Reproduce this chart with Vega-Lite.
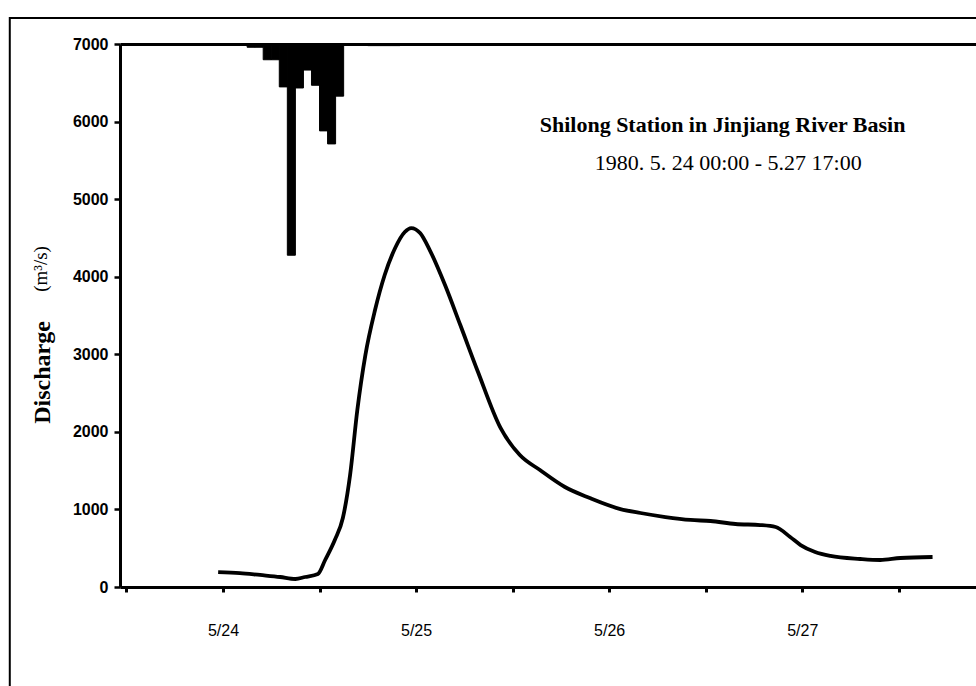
{
  "$schema": "https://vega.github.io/schema/vega-lite/v6.json",
  "width": 856,
  "height": 543,
  "autosize": {"type": "none"},
  "padding": {"left": 120, "top": 44, "right": 0, "bottom": 99},
  "background": "white",
  "config": {"view": {"stroke": null}, "axis": {"grid": false}},
  "datasets": {
    "discharge": [
      {"hour": -0.6, "Q": 193}, {"hour": 2.1, "Q": 180}, {"hour": 4.6, "Q": 155}, {"hour": 7.1, "Q": 129},
      {"hour": 9.0, "Q": 103}, {"hour": 10.2, "Q": 129}, {"hour": 11.8, "Q": 168}, {"hour": 12.7, "Q": 348},
      {"hour": 13.9, "Q": 606}, {"hour": 14.9, "Q": 889}, {"hour": 15.8, "Q": 1444}, {"hour": 16.7, "Q": 2282},
      {"hour": 17.7, "Q": 2990}, {"hour": 18.9, "Q": 3570}, {"hour": 20.1, "Q": 4022}, {"hour": 21.4, "Q": 4370},
      {"hour": 22.6, "Q": 4576}, {"hour": 23.4, "Q": 4627}, {"hour": 24.5, "Q": 4563}, {"hour": 25.7, "Q": 4344},
      {"hour": 27.6, "Q": 3893}, {"hour": 29.5, "Q": 3377}, {"hour": 31.7, "Q": 2771}, {"hour": 34.5, "Q": 2050},
      {"hour": 36.9, "Q": 1701}, {"hour": 39.4, "Q": 1508}, {"hour": 42.5, "Q": 1289}, {"hour": 45.6, "Q": 1147},
      {"hour": 49.4, "Q": 1005}, {"hour": 51.9, "Q": 954}, {"hour": 55.0, "Q": 902}, {"hour": 58.1, "Q": 864},
      {"hour": 60.6, "Q": 851}, {"hour": 63.7, "Q": 812}, {"hour": 66.8, "Q": 799}, {"hour": 68.7, "Q": 773},
      {"hour": 70.5, "Q": 645}, {"hour": 71.8, "Q": 541}, {"hour": 73.6, "Q": 451}, {"hour": 75.5, "Q": 400},
      {"hour": 79.2, "Q": 361}, {"hour": 81.7, "Q": 348}, {"hour": 84.2, "Q": 374}, {"hour": 88.2, "Q": 387}
    ],
    "rain": [
      {"t0": 3, "t1": 4, "rain": 0.6}, {"t0": 4, "t1": 5, "rain": 0.6},
      {"t0": 5, "t1": 6, "rain": 2.9}, {"t0": 6, "t1": 7, "rain": 2.9},
      {"t0": 7, "t1": 8, "rain": 7.9}, {"t0": 8, "t1": 9, "rain": 38.9},
      {"t0": 9, "t1": 10, "rain": 8.1}, {"t0": 10, "t1": 11, "rain": 4.8},
      {"t0": 11, "t1": 12, "rain": 7.6}, {"t0": 12, "t1": 13, "rain": 16.0},
      {"t0": 13, "t1": 14, "rain": 18.4}, {"t0": 14, "t1": 15, "rain": 9.6},
      {"t0": 18, "t1": 19, "rain": 0.3}, {"t0": 19, "t1": 20, "rain": 0.3},
      {"t0": 20, "t1": 21, "rain": 0.3}, {"t0": 21, "t1": 22, "rain": 0.3}
    ]
  },
  "layer": [
    {
      "data": {"name": "rain"},
      "mark": {"type": "rect", "color": "black", "stroke": "black", "strokeWidth": 1},
      "encoding": {
        "x": {
          "field": "t0", "type": "quantitative",
          "scale": {"domain": [-12.8, 93.6], "nice": false, "zero": false},
          "axis": {"orient": "top", "labels": false, "ticks": false, "domainWidth": 3, "domainColor": "black", "title": null, "grid": false}
        },
        "x2": {"field": "t1"},
        "y": {"field": "rain", "type": "quantitative", "scale": {"domain": [0, 100], "reverse": true, "nice": false}, "axis": null},
        "y2": {"datum": 0}
      }
    },
    {
      "layer": [
        {
          "data": {"values": [{}]},
          "mark": {"type": "rect", "fill": null, "stroke": "black", "strokeWidth": 2},
          "encoding": {
            "x": {"datum": -26.5, "type": "quantitative"},
            "x2": {"datum": 100},
            "y": {"datum": 7334, "type": "quantitative"},
            "y2": {"datum": -1320}
          }
        },
        {
          "data": {"name": "discharge"},
          "mark": {"type": "line", "color": "black", "strokeWidth": 3.8, "interpolate": "monotone"},
          "encoding": {
            "x": {
              "field": "hour", "type": "quantitative",
              "scale": {"domain": [-12.8, 93.6], "nice": false, "zero": false},
              "axis": {
                "orient": "bottom", "values": [-12, 0, 12, 24, 36, 48, 60, 72, 84],
                "labelExpr": "datum.value % 24 === 0 ? '5/' + (24 + datum.value / 24) : ''",
                "tickSize": 5, "tickWidth": 3, "tickColor": "black",
                "domainWidth": 3, "domainColor": "black",
                "labelFont": "Liberation Sans", "labelFontSize": 16, "labelColor": "black",
                "labelPadding": 30, "title": null, "grid": false
              }
            },
            "y": {
              "field": "Q", "type": "quantitative",
              "scale": {"domain": [0, 7000], "nice": false, "zero": true},
              "axis": {
                "values": [0, 1000, 2000, 3000, 4000, 5000, 6000, 7000],
                "format": "d",
                "tickSize": 6, "tickWidth": 2.5, "tickColor": "black",
                "domainWidth": 3, "domainColor": "black",
                "labelFont": "Liberation Sans", "labelFontWeight": "bold", "labelFontSize": 16,
                "labelColor": "black", "labelPadding": 6,
                "title": "Discharge", "titleFont": "Liberation Serif", "titleFontSize": 24,
                "titleFontWeight": "bold", "titleColor": "black",
                "titleX": -78, "titleY": 328, "titleAngle": -90,
                "titleAlign": "center", "titleBaseline": "middle", "grid": false
              }
            }
          }
        },
        {
          "data": {"values": [{}]},
          "mark": {"type": "text", "font": "Liberation Serif", "fontSize": 19, "angle": 270, "align": "center", "baseline": "middle", "color": "black"},
          "encoding": {
            "x": {"datum": -22.6, "type": "quantitative"},
            "y": {"datum": 4100, "type": "quantitative"},
            "text": {"value": "(m³/s)"}
          }
        },
        {
          "data": {"values": [{}]},
          "mark": {"type": "text", "font": "Liberation Serif", "fontSize": 22, "fontWeight": "bold", "align": "center", "baseline": "middle", "color": "black"},
          "encoding": {
            "x": {"datum": 62.1, "type": "quantitative"},
            "y": {"datum": 5955, "type": "quantitative"},
            "text": {"value": "Shilong Station in Jinjiang River Basin"}
          }
        },
        {
          "data": {"values": [{}]},
          "mark": {"type": "text", "font": "Liberation Serif", "fontSize": 22, "align": "center", "baseline": "middle", "color": "black"},
          "encoding": {
            "x": {"datum": 62.8, "type": "quantitative"},
            "y": {"datum": 5465, "type": "quantitative"},
            "text": {"value": "1980. 5. 24 00:00 - 5.27 17:00"}
          }
        }
      ]
    }
  ],
  "resolve": {"scale": {"y": "independent"}, "axis": {"x": "independent"}}
}
